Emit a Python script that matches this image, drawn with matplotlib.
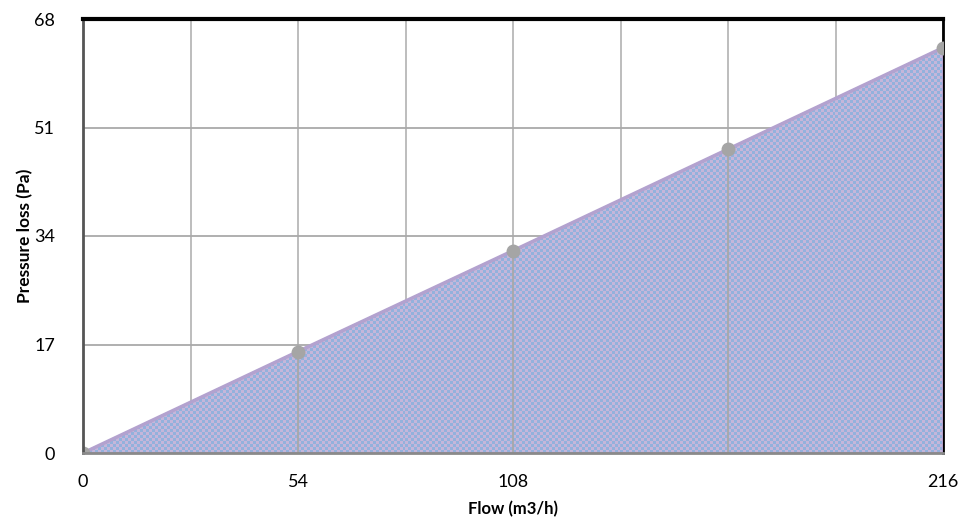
import numpy as np
import matplotlib
matplotlib.use("Agg")
import matplotlib.pyplot as plt
from matplotlib.colors import ListedColormap

flow = [0, 54, 108, 162, 216]
pressure = [0, 15.9, 31.7, 47.6, 63.5]
xticks = [0, 54, 108, 216]
yticks = [0, 17, 34, 51, 68]
xgrid = [0, 27, 54, 81, 108, 135, 162, 189, 216]

plt.rcParams['font.family'] = ['Lato', 'DejaVu Sans']

fig = plt.figure(figsize=(9.59, 5.24), dpi=100)
ax = fig.add_axes([83/959, 1-453/524, 860/959, 434/524])
ax.set_xlim(0, 216)
ax.set_ylim(0, 68)

# grid
for g in xgrid:
    ax.axvline(g, color='#b7b7b7', lw=1.3, zorder=1)
for g in yticks[1:-1]:
    ax.axhline(g, color='#a9a9a9', lw=1.3, zorder=1)

# checkered fill
poly = ax.fill_between(flow, pressure, 0, facecolor='none', edgecolor='none', zorder=2)
ncol, nrow = 288, 145
pat = (np.add.outer(np.arange(nrow), np.arange(ncol)) % 2).astype(float)
cmap = ListedColormap(['#93b1dc', '#c5b6da'])
im = ax.imshow(pat, cmap=cmap, extent=[0, 216, 0, 68], aspect='auto',
               interpolation='nearest', zorder=2, origin='lower')
im.set_clip_path(poly.get_paths()[0], transform=ax.transData)
ax.fill_between(flow, pressure, 0, facecolor='none', edgecolor='#b3a2cf', lw=1.5, zorder=3)

# line
ax.plot(flow, pressure, color='#b3a2cf', lw=2.5, zorder=4)

# drop lines
ax.vlines(flow[1:-1], 0, pressure[1:-1], color='#a8a8a8', lw=1.3, zorder=4)

# markers
ax.plot(flow, pressure, 'o', color='#a5a5a5', ms=9, zorder=5, clip_on=True)

for s in ['left', 'bottom', 'right', 'top']:
    ax.spines[s].set_zorder(6)
ax.spines['top'].set_linewidth(3)
ax.spines['top'].set_color('black')
ax.spines['right'].set_linewidth(2)
ax.spines['right'].set_color('black')
ax.spines['right'].set_zorder(1.5)
ax.spines['left'].set_linewidth(2)
ax.spines['left'].set_color('#555555')
ax.spines['bottom'].set_linewidth(2)
ax.spines['bottom'].set_color('#8a8a8a')

ax.set_xticks(xticks)
ax.set_xticklabels([str(t) for t in xticks])
ax.set_yticks(yticks)
ax.set_yticklabels([str(t) for t in yticks])
ax.tick_params(length=0, labelsize=13, colors='black')
ax.tick_params(axis='x', pad=15)
ax.tick_params(axis='y', pad=20)

ax.set_xlabel('Flow (m3/h)', fontsize=12, fontweight='bold', labelpad=8)
ax.set_ylabel('Pressure loss (Pa)', fontsize=12.5, fontweight='bold', labelpad=1)

fig.savefig('out.png', dpi=100)
